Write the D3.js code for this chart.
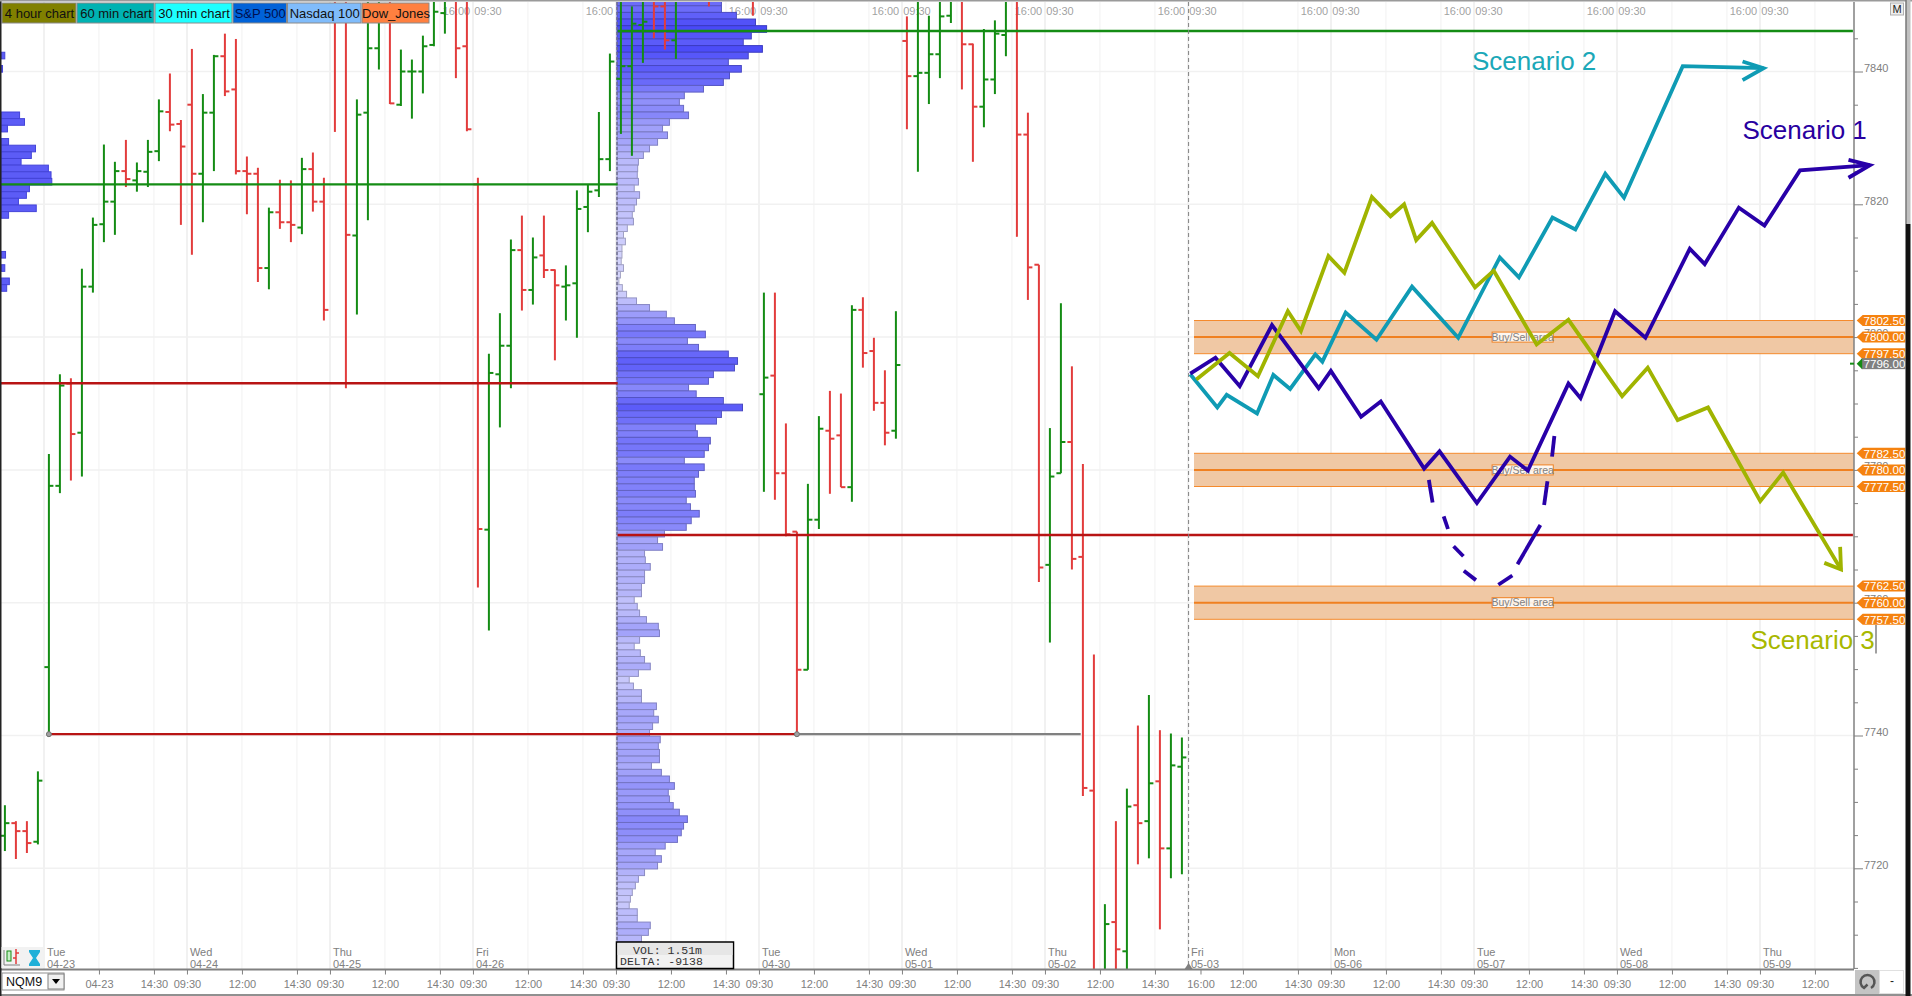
<!DOCTYPE html>
<html lang="en">
<head>
  <meta charset="UTF-8">
  <title>NQM9 scenarios</title>
  <script src="https://d3js.org/d3.v7.min.js"></script>
  <style>
    body { margin: 0; padding: 0; overflow: hidden; background: #fff; }
    text { font-family: "Liberation Sans", Arial, sans-serif; }
    .axis-text text, text.axis-text { font-family: "Liberation Sans Narrow", "Liberation Sans", sans-serif; font-size: 11px; fill: #808080; }
  </style>
</head>
<body>
  <svg id="chart" width="1912" height="996"></svg>

  <script>
    // 30 minute bars, left to right. values above 7851 or below 7705 are off the pane
    const barOpen = [
      7724.9,7726.8,7725.6,7724.0,7750.3,7777.6,7793.0,7785.6,7807.6,7817.0,
      7820.4,7825.0,7823.6,7824.9,7828.0,7833.9,7832.1,7835.0,7824.6,7833.8,
      7842.3,7837.3,7825.0,7824.6,7810.4,7818.8,7817.3,7816.5,7825.3,7820.4,
      7853,7853,7815.3,7833.8,7843.5,7852,7835.0,7840.0,7840.0,7844.0,
      7848.8,7852,7843.8,7823.0,7771.0,7794.4,7798.7,7813.1,7807.1,7812.3,
      7810.1,7807.6,7808.1,7819.6,7822.1,7826.8,7838.9,7840.8,7847.0,7852,
      7849.8,7844.7,7858,7858,7860,7858,7858,7858,7860,7791.4,
      7794.2,7779.5,7770.7,7749.9,7772.5,7785.9,7785.2,7777.4,7804.1,7797.9,
      7790.1,7785.9,7844.6,7839.3,7839.8,7842.6,7848.4,7852,7844.1,7834.7,
      7838.8,7845.5,7852,7830.5,7810.9,7765.7,7779.5,7784.2,7766.9,7731.7,
      7700,7711.9,7707.5,7729.5,7727.1,7733.1,7723.0,7735.3
    ];
    const barHigh = [
      7729.5,7727.1,7727.1,7734.6,7782.4,7794.4,7793.8,7810.3,7818.0,7829.0,
      7826.4,7829.7,7826.3,7829.7,7835.8,7839.7,7832.7,7843.4,7836.6,7842.5,
      7845.7,7844.9,7827.2,7825.5,7819.5,7823.7,7823.6,7827.0,7827.8,7824.0,
      7853,7853,7835.8,7852,7852,7852,7843.3,7841.8,7845.4,7852,
      7852,7852,7852,7824.0,7797.5,7803.6,7814.7,7818.3,7815.0,7818.3,
      7810.2,7810.8,7822.1,7823.0,7833.9,7842.7,7852,7849.8,7852,7852,
      7852,7852,7860,7860,7860,7860,7860,7860,7860,7806.7,
      7806.7,7787.0,7770.7,7777.9,7788.1,7791.9,7791.5,7804.8,7806.0,7799.9,
      7795.0,7803.9,7848.3,7852,7848.4,7852,7852,7852,7844.2,7846.4,
      7847.7,7852,7852,7833.8,7810.9,7786.3,7805.1,7795.6,7780.9,7752.2,
      7714.6,7727.1,7732.0,7741.5,7746.1,7740.8,7740.3,7739.7
    ];
    const barLow = [
      7722.6,7721.4,7722.3,7723.6,7739.8,7776.5,7778.4,7779.0,7806.7,7814.3,
      7815.4,7822.6,7821.9,7822.6,7826.5,7831.0,7816.9,7812.4,7817.3,7825.0,
      7836.3,7824.5,7818.5,7808.3,7807.2,7816.3,7814.3,7815.5,7818.9,7802.5,
      7830.9,7792.3,7803.4,7817.6,7840.3,7835.1,7834.8,7832.9,7836.7,7843.8,
      7845.7,7839.0,7831.0,7762.3,7755.8,7786.4,7792.3,7804.0,7804.9,7808.9,
      7796.5,7802.5,7799.9,7815.8,7821.1,7825.0,7830.6,7827.3,7841.3,7845.0,
      7843.3,7841.9,7853,7853,7849.8,7853,7853,7853,7848.4,7776.7,
      7775.5,7770.0,7740.3,7749.9,7771.1,7776.4,7777.4,7775.2,7795.4,7788.9,
      7783.7,7784.7,7831.3,7824.9,7835.1,7839.0,7847.3,7837.3,7826.4,7831.6,
      7836.6,7842.3,7815.1,7805.6,7763.1,7754.0,7779.5,7765.0,7730.9,7700,
      7700,7700,7700,7720.6,7721.5,7710.8,7718.5,7719.1
    ];
    const barClose = [
      7726.8,7725.6,7723.8,7733.2,7777.6,7792.7,7785.4,7807.6,7816.9,7820.4,
      7825.0,7823.8,7825.0,7827.9,7834.0,7832.0,7828.7,7824.6,7833.8,7842.3,
      7837.0,7825.0,7824.6,7810.4,7818.8,7817.3,7816.9,7825.3,7820.4,7804.1,
      7852,7815.4,7833.5,7843.5,7852,7835.2,7840.0,7840.0,7843.8,7849.0,
      7852,7843.5,7831.3,7771.1,7794.6,7798.7,7813.1,7807.1,7812.0,7810.1,
      7807.8,7807.8,7819.3,7821.9,7826.8,7841.5,7840.8,7847.2,7847.5,7849.8,
      7844.7,7852,7856,7856,7855,7856,7856,7856,7855,7793.9,
      7779.5,7770.3,7749.9,7772.5,7786.2,7784.7,7777.4,7804.1,7797.6,7790.1,
      7785.6,7795.8,7839.3,7839.8,7842.6,7848.3,7852,7844.1,7834.7,7838.8,
      7845.7,7852,7830.5,7810.5,7765.3,7779.0,7784.2,7766.6,7732.1,7700,
      7711.6,7707.8,7729.3,7726.8,7732.8,7723.0,7735.5,7736.7
    ];

    // volume profile, one row per point going down from the top row
    const profileTopPrice = 7850.4;
    const profileVolume = [
      318,318,357,407,436,396,375,425,388,336,370,339,323,271,221,208,219,232,182,164,
      177,151,130,114,101,99,98,101,90,104,96,90,85,88,72,62,67,58,58,56,
      62,54,50,59,70,96,130,174,195,250,276,229,258,336,360,352,297,284,232,252,
      323,373,318,305,250,255,289,284,273,221,273,258,247,247,250,226,237,260,239,226,
      169,151,164,117,119,132,117,117,109,109,90,98,104,122,153,156,104,90,106,117,
      132,101,77,88,109,109,148,141,153,138,130,158,153,156,156,135,161,182,195,179,
      182,192,208,229,219,213,203,171,145,161,151,117,101,93,85,80,77,98,98,132,127,109
    ];
    const prevProfileRow = [8,10,17,18,19,21,22,23,24,25,26,27,28,29,30,31,32,38,40,42,43];
    const prevProfileVolume = [10,4,49,62,17,20,91,80,53,125,132,134,75,67,46,93,20,12,10,22,15];

    // support / resistance lines: price, first bar, last bar, colour name
    const levelPrices = [7823, 7846.1, 7793.05, 7770.2, 7740.2, 7740.2];
    const levelFrom = [-1, 55.7, -1, 55.7, 4, 72];
    const levelTo = [55.7, 168, 55.7, 168, 72, 97.8];
    const levelKinds = ["green", "green", "red", "red", "red", "grey"];

    // scenario paths: bar position and price
    const scenario1Bars = [107.76,110.05,112.26,115.19,119.43,120.54,123.29,125.08,129.02,130.42,133.82,136.83,138.45,142.14,143.24,146.38,149.14,153.17,154.53,157.63,159.96,163.19,169.55];
    const scenario1Prices = [7794.5,7796.9,7792.6,7801.8,7792.3,7794.9,7788,7790.3,7780.2,7782.8,7775,7782,7779.9,7793,7790.8,7803.9,7799.9,7813.3,7811,7819.5,7816.8,7825.1,7825.9];
    const scenario2Bars = [107.76,110.22,111.07,113.83,115.31,116.84,119.13,119.77,121.89,124.69,127.92,132.12,135.9,137.64,140.69,142.77,145.49,147.19,152.53,159.88];
    const scenario2Prices = [7794.4,7789.4,7791.3,7788.5,7794.3,7792.2,7797.4,7796.3,7803.7,7799.6,7807.6,7799.9,7812,7809,7818,7816.2,7824.6,7821,7840.8,7840.5];
    const scenario3Bars = [108.31,111.33,113.91,116.63,117.82,120.32,121.77,124.27,125.97,127.2,128.3,129.74,133.65,135.35,139.25,142.14,147.02,149.35,152.07,154.83,159.58,161.66,166.92];
    const scenario3Prices = [7793.6,7797.6,7794.1,7803.9,7800.9,7812.2,7809.7,7821.1,7818.2,7820,7814.6,7817.2,7807.5,7810,7798.9,7802.6,7791.1,7795.4,7787.5,7789.4,7775.3,7779.6,7765];
    // arrow heads: wing, tip, wing
    const arrow1Bars = [167.6,169.55,167.6], arrow1Prices = [7826.7,7825.9,7824];
    const arrow2Bars = [157.97,159.88,157.97], arrow2Prices = [7841.5,7840.5,7838.7];
    const arrow3Bars = [165.4,166.92,166.84], arrow3Prices = [7766,7765,7768.4];
    // hand drawn dashes under scenario 1
    const dashBars = [[129.45,129.79],[130.8,131.19],[131.7,132.59],[132.63,133.73],[135.77,137.04],[137.51,139.59],[139.93,140.23],[140.65,140.86]];
    const dashPrices = [[7778.5,7775.1],[7773,7771.1],[7768.5,7767],[7764.8,7763.4],[7762.7,7764.1],[7765.8,7771.7],[7774.7,7778.3],[7782,7785.1]];

    const bandCenters = [7800, 7780, 7760];
    const bandHalf = 2.5;

    const legendNames = ["4 hour chart", "60 min chart", "30 min chart", "S&P 500", "Nasdaq 100", "Dow_Jones"];
    const legendColors = ["#808000", "#00b2b2", "#1effff", "#0062d8", "#80bcfb", "#ff8040"];
    const legendEdges = [2, 77, 155, 233, 287.5, 362, 430];

    const dayNames = ["Tue", "Wed", "Thu", "Fri", "", "Tue", "Wed", "Thu", "Fri", "Mon", "Tue", "Wed", "Thu"];
    const dayDates = ["04-23", "04-24", "04-25", "04-26", "", "04-30", "05-01", "05-02", "05-03", "05-06", "05-07", "05-08", "05-09"];
    const timeLabels = [
      "04-23","14:30","09:30","12:00","14:30","09:30","12:00","14:30","09:30","12:00","14:30",
      "09:30","12:00","14:30","09:30","12:00","14:30","09:30","12:00","14:30","09:30","12:00","14:30",
      "16:00","12:00","14:30","09:30","12:00","14:30","09:30","12:00","14:30","09:30","12:00","14:30",
      "09:30","12:00"
    ];

    const svg = d3.select("#chart");
    const paneRight = 1854, paneBottom = 969;

    // one bar = 30 min = 11px
    const x = d3.scaleLinear().domain([0, 1]).range([4.9, 15.9]);
    const y = d3.scaleLinear().domain([7720, 7840]).range([868.3, 71.5]);
    const xVol = d3.scaleLinear().domain([45, 436]).range([617, 766.6]);
    const volColor = d3.scaleLinear().domain([50, 120, 250, 440])
      .range(["#d6d6fc", "#b0b0fa", "#8080fa", "#4848f8"]);

    const firstDayBar = 3.55, barsPerDay = 13;
    const dayBars = d3.range(dayNames.length).map(k => firstDayBar + barsPerDay * k);
    const gridBars = dayBars.flatMap(d => [d, d + 5, d + 10]).filter(d => x(d) < paneRight);
    // first 09:30 has no label, first future day shows 16:00 just after the dashed line
    const tickBars = gridBars.slice(1).map(d => d === dayBars[8] ? d + 1.14 : d);

    svg.append("defs").append("clipPath").attr("id", "pane")
      .append("rect").attr("x", 0).attr("y", 2).attr("width", paneRight).attr("height", paneBottom - 2);

    // grid
    const grid = svg.append("g").attr("clip-path", "url(#pane)");
    grid.selectAll(".vgrid").data(gridBars).join("line")
      .attr("x1", d => x(d)).attr("x2", d => x(d)).attr("y1", 0).attr("y2", paneBottom)
      .attr("stroke", "#f1f1f1").attr("stroke-width", (d, i) => i % 3 === 0 ? 2 : 1);
    grid.selectAll(".hgrid").data(d3.range(7720, 7841, 20)).join("line")
      .attr("x1", 0).attr("x2", paneRight).attr("y1", d => y(d)).attr("y2", d => y(d))
      .attr("stroke", "#f1f1f1").attr("stroke-width", 1.5);

    // session labels on the top of the pane
    const topLabels = svg.append("g").attr("class", "axis-text");
    dayBars.slice(3, 13).forEach(d => {
      topLabels.append("text").attr("x", x(d) - 16.5).attr("y", 14.5).attr("text-anchor", "middle").attr("fill-opacity", 0.75).text("16:00");
      topLabels.append("text").attr("x", x(d) + 15).attr("y", 14.5).attr("text-anchor", "middle").attr("fill-opacity", 0.75).text("09:30");
    });

    // day labels
    const dayLabels = svg.append("g").attr("class", "axis-text");
    dayBars.forEach((d, i) => {
      dayLabels.append("text").attr("x", x(d) + 3).attr("y", 956).text(dayNames[i]);
      dayLabels.append("text").attr("x", x(d) + 3).attr("y", 967.5).text(dayDates[i]);
    });

    // buy/sell bands
    const bands = svg.append("g");
    const bandLeft = x(108.1);
    bandCenters.forEach(c => {
      bands.append("rect").attr("x", bandLeft).attr("width", paneRight - bandLeft)
        .attr("y", y(c + bandHalf)).attr("height", y(c - bandHalf) - y(c + bandHalf))
        .attr("fill", "#f0c8a4");
      [c + bandHalf, c - bandHalf].forEach(p => {
        bands.append("line").attr("x1", bandLeft).attr("x2", paneRight).attr("y1", y(p)).attr("y2", y(p))
          .attr("stroke", "#f58a2c").attr("stroke-width", 1);
      });
      bands.append("line").attr("x1", bandLeft).attr("x2", paneRight).attr("y1", y(c)).attr("y2", y(c))
        .attr("stroke", "#f08020").attr("stroke-width", 2);
      bands.append("rect").attr("x", x(135.2)).attr("width", x(140.76) - x(135.2))
        .attr("y", y(c) - 5).attr("height", 10).attr("fill", "#fff").attr("fill-opacity", 0.85)
        .attr("stroke", "#f08020").attr("stroke-width", 1);
      bands.append("text").attr("x", (x(135.2) + x(140.76)) / 2).attr("y", y(c) + 3.6).attr("text-anchor", "middle")
        .attr("font-size", 10.5).attr("fill", "#808080").text("Buy/Sell area");
    });

    // right axis
    const yAxis = d3.axisRight(y).tickValues(d3.range(7705, 7850, 5))
      .tickSize(4).tickFormat(d => d % 20 === 0 ? d : "");
    const yg = svg.append("g").attr("class", "axis-text").attr("transform", `translate(${paneRight},0)`).call(yAxis);
    yg.select(".domain").attr("stroke", "#808080").attr("stroke-width", 1.5).attr("d", `M0,2V${paneBottom}`);
    yg.selectAll(".tick line").attr("stroke", "#808080").attr("x2", d => d % 20 === 0 ? 9 : 4);
    yg.selectAll(".tick text").attr("x", 10).attr("dy", "-0.02em");

    // volume profiles
    const profileRows = profileVolume.map((v, k) => ({ v, price: profileTopPrice - k }));
    const profile = svg.append("g").attr("clip-path", "url(#pane)");
    profile.selectAll("rect").data(profileRows).join("rect")
      .attr("x", xVol(45)).attr("width", d => xVol(d.v) - xVol(45))
      .attr("y", d => y(d.price + 0.5)).attr("height", d => y(d.price - 0.5) - y(d.price + 0.5))
      .attr("fill", d => volColor(d.v))
      .attr("stroke", d => d3.color(volColor(d.v)).darker(0.7)).attr("stroke-width", 1);

    const xPrev = d3.scaleLinear().domain([0, 134]).range([1, 51.8]);
    svg.append("g").selectAll("rect").data(prevProfileRow).join("rect")
      .attr("x", xPrev(0)).attr("width", (d, i) => xPrev(prevProfileVolume[i]) - xPrev(0))
      .attr("y", d => y(profileTopPrice - d + 0.5)).attr("height", y(0) - y(1))
      .attr("fill", "#5c5cf6").attr("stroke", "#4444d8").attr("stroke-width", 1);

    // profile edge
    svg.append("line").attr("x1", 617).attr("x2", 617).attr("y1", 2).attr("y2", 942)
      .attr("stroke", "#707090").attr("stroke-width", 1.5).attr("stroke-dasharray", "3,2");

    // OHLC bars
    const barData = barOpen.map((o, i) => ({ i, o, h: barHigh[i], l: barLow[i], c: barClose[i] }));
    const barColor = d => d.c >= d.o ? "#148c14" : "#e23c3c";
    const bars = svg.append("g").attr("clip-path", "url(#pane)")
      .selectAll("g").data(barData).join("g").attr("stroke", barColor).attr("stroke-width", 2);
    bars.append("line").attr("x1", d => x(d.i)).attr("x2", d => x(d.i)).attr("y1", d => y(d.h)).attr("y2", d => y(d.l));
    bars.append("line").attr("x1", d => x(d.i) - 4.5).attr("x2", d => x(d.i)).attr("y1", d => y(d.o)).attr("y2", d => y(d.o));
    bars.append("line").attr("x1", d => x(d.i)).attr("x2", d => x(d.i) + 4.5).attr("y1", d => y(d.c)).attr("y2", d => y(d.c));

    // horizontal levels
    const levelColor = { green: "#148c14", red: "#b81414", grey: "#808080" };
    const levels = svg.append("g").attr("clip-path", "url(#pane)");
    levels.selectAll("line").data(levelPrices).join("line")
      .attr("x1", (d, i) => x(levelFrom[i])).attr("x2", (d, i) => x(levelTo[i]))
      .attr("y1", d => y(d)).attr("y2", d => y(d))
      .attr("stroke", (d, i) => levelColor[levelKinds[i]]).attr("stroke-width", 2.4);
    levels.selectAll("circle").data([4, 72]).join("circle")
      .attr("cx", d => x(d)).attr("cy", y(7740.2)).attr("r", 2.5)
      .attr("fill", "#a0a0a0").attr("stroke", "#707070");

    // dashed line at the last bar
    svg.append("line").attr("x1", 1188.6).attr("x2", 1188.6).attr("y1", 2).attr("y2", paneBottom)
      .attr("stroke", "#808080").attr("stroke-dasharray", "4,3");
    svg.append("path").attr("d", "M1188.6,963l4,6h-8z").attr("fill", "#808080");

    // scenarios
    const pathLine = d3.line().x(d => x(d[0])).y(d => y(d[1]));
    const zipped = (a, b) => a.map((d, i) => [d, b[i]]);
    const scenarios = svg.append("g").attr("fill", "none").attr("stroke-linejoin", "miter");
    [
      [scenario2Bars, scenario2Prices, arrow2Bars, arrow2Prices, "#0f9bb4"],
      [scenario1Bars, scenario1Prices, arrow1Bars, arrow1Prices, "#2800a8"],
      [scenario3Bars, scenario3Prices, arrow3Bars, arrow3Prices, "#a0b400"]
    ].forEach(s => {
      scenarios.append("path").attr("d", pathLine(zipped(s[0], s[1]))).attr("stroke", s[4]).attr("stroke-width", 3.8);
      scenarios.append("path").attr("d", pathLine(zipped(s[2], s[3]))).attr("stroke", s[4]).attr("stroke-width", 3.8);
    });
    dashBars.forEach((d, i) => {
      scenarios.append("path").attr("d", pathLine(zipped(d, dashPrices[i]))).attr("stroke", "#2800a8").attr("stroke-width", 3.8);
    });

    const sceneText = svg.append("g").attr("font-size", 26);
    sceneText.append("text").attr("x", 1472).attr("y", 70).attr("fill", "#1ba8b8").text("Scenario 2");
    sceneText.append("text").attr("x", 1742.5).attr("y", 138.5).attr("fill", "#2800a0").text("Scenario 1");
    sceneText.append("text").attr("x", 1750.5).attr("y", 648.5).attr("fill", "#a8b800").text("Scenario 3");
    svg.append("line").attr("x1", 1876).attr("x2", 1876).attr("y1", 625).attr("y2", 653.5).attr("stroke", "#808080").attr("stroke-width", 1.5);

    // price tags
    const tagPrices = bandCenters.flatMap(c => [c + bandHalf, c, c - bandHalf]);
    const tag = svg.append("g").selectAll("g").data(tagPrices).join("g")
      .attr("transform", d => `translate(0,${y(d)})`);
    tag.append("path").attr("d", "M1856.7,0l6,-5.5h42.6v11h-42.6z").attr("fill", "#f5820f");
    tag.append("text").attr("x", 1863.5).attr("y", 4.2).attr("font-size", 11.6).attr("fill", "#fff").text(d => d.toFixed(2));

    const lastPrice = 7796;
    const lastTag = svg.append("g").attr("transform", `translate(0,${y(lastPrice)})`);
    lastTag.append("rect").attr("x", 1861.7).attr("y", -5.5).attr("width", 43.6).attr("height", 11).attr("fill", "#808080");
    lastTag.append("path").attr("d", "M1856.7,0l5.5,-5.5v11z").attr("fill", "#148c14");
    lastTag.append("line").attr("x1", 1850).attr("x2", 1854).attr("stroke", "#148c14").attr("stroke-width", 2);
    lastTag.append("text").attr("x", 1863.5).attr("y", 4.2).attr("font-size", 11.6).attr("fill", "#fff").text(lastPrice.toFixed(2));

    // bottom time axis
    const xAxis = d3.axisBottom(x).tickValues(tickBars).tickSize(5).tickPadding(6)
      .tickFormat((d, i) => timeLabels[i]);
    const xg = svg.append("g").attr("class", "axis-text").attr("transform", `translate(0,${paneBottom + 0.5})`).call(xAxis);
    xg.select(".domain").attr("stroke", "#808080").attr("stroke-width", 2).attr("d", `M0,0H${paneRight}`);
    xg.selectAll(".tick line").attr("stroke", "#808080");
    svg.append("rect").attr("y", 994).attr("width", 1912).attr("height", 2).attr("fill", "#909090");

    // volume box
    const box = svg.append("g");
    box.append("rect").attr("x", 616.5).attr("y", 942).attr("width", 117).attr("height", 26.5).attr("fill", "#f2f2f2").attr("stroke", "#000").attr("stroke-width", 1.5);
    box.append("rect").attr("x", 617.5).attr("y", 943).attr("width", 115).attr("height", 12).attr("fill", "#e6e6e6");
    box.append("text").attr("x", 633).attr("y", 954).attr("font-size", 11.5).attr("style", "font-family:'Liberation Mono',monospace").attr("fill", "#333").text("VOL: 1.51m");
    box.append("text").attr("x", 620).attr("y", 964.5).attr("font-size", 11.5).attr("style", "font-family:'Liberation Mono',monospace").attr("fill", "#333").text("DELTA: -9138");

    // study buttons
    const legend = svg.append("g");
    legendNames.forEach((name, i) => {
      legend.append("rect").attr("x", legendEdges[i]).attr("y", 3).attr("width", legendEdges[i + 1] - legendEdges[i] - 1).attr("height", 20)
        .attr("fill", legendColors[i]).attr("stroke", "#8a8a8a").attr("stroke-width", 1);
      legend.append("text").attr("x", (legendEdges[i] + legendEdges[i + 1]) / 2).attr("y", 17.5).attr("text-anchor", "middle")
        .attr("font-size", 13).attr("fill", i === 3 ? "#001050" : "#111").text(name);
    });

    // platform furniture
    const ui = svg.append("g");
    ui.append("rect").attr("x", 0).attr("width", 1.5).attr("height", 996).attr("fill", "#222");
    ui.append("rect").attr("x", 0).attr("y", 0).attr("width", 1912).attr("height", 1.5).attr("fill", "#9a9a9a");
    ui.append("rect").attr("x", 1.5).attr("y", 947).attr("width", 42).attr("height", 21).attr("fill", "#f2f2f2");
    ui.append("path").attr("d", "M4,950V965H20").attr("fill", "none").attr("stroke", "#808080");
    ui.append("rect").attr("x", 7).attr("y", 951).attr("width", 4).attr("height", 10).attr("fill", "#c8f0c8").attr("stroke", "#148c14");
    ui.append("path").attr("d", "M16,949V964M16,953h3M16,958h-3").attr("stroke", "#e23c3c").attr("stroke-width", 1.5);
    ui.append("path").attr("d", "M29,950h11v2l-4,6l4,6v2h-11v-2l4,-6l-4,-6z").attr("fill", "#20b0d8");
    // symbol box
    ui.append("rect").attr("x", 2).attr("y", 973).attr("width", 62).attr("height", 17).attr("fill", "#fff").attr("stroke", "#909090");
    ui.append("rect").attr("x", 48).attr("y", 974).attr("width", 16).attr("height", 15).attr("fill", "#f0f0f0").attr("stroke", "#808080");
    ui.append("path").attr("d", "M52,979h8l-4,5z").attr("fill", "#000");
    ui.append("text").attr("x", 6).attr("y", 986).attr("font-size", 12.5).attr("fill", "#111").text("NQM9");
    // right side buttons
    ui.append("rect").attr("x", 1890.5).attr("y", 3).attr("width", 13).attr("height", 12).attr("fill", "#eee").attr("stroke", "#b0b0b0");
    ui.append("text").attr("x", 1897).attr("y", 13).attr("text-anchor", "middle").attr("font-size", 11).attr("fill", "#222").text("M");
    ui.append("rect").attr("x", 1855).attr("y", 970).attr("width", 24).attr("height", 24).attr("fill", "#c4c4c4");
    ui.append("path").attr("d", "M1871,988a7,7,0,1,0,-7,0l3.5,-3.5").attr("fill", "none").attr("stroke", "#555").attr("stroke-width", 2.5);
    ui.append("rect").attr("x", 1879.5).attr("y", 970.5).attr("width", 24).attr("height", 23).attr("fill", "#fff").attr("stroke", "#e0e0e0");
    ui.append("text").attr("x", 1892).attr("y", 985).attr("text-anchor", "middle").attr("font-size", 12).attr("fill", "#222").text("-");
    ui.append("rect").attr("x", 1905.5).attr("y", 224).attr("width", 5).attr("height", 772).attr("fill", "#111");
    ui.append("rect").attr("x", 1905.5).attr("y", 0).attr("width", 5).attr("height", 224).attr("fill", "#c0c0c0");
    ui.append("rect").attr("x", 1905.5).attr("y", 0).attr("width", 1).attr("height", 224).attr("fill", "#555");
  </script>
</body>
</html>
